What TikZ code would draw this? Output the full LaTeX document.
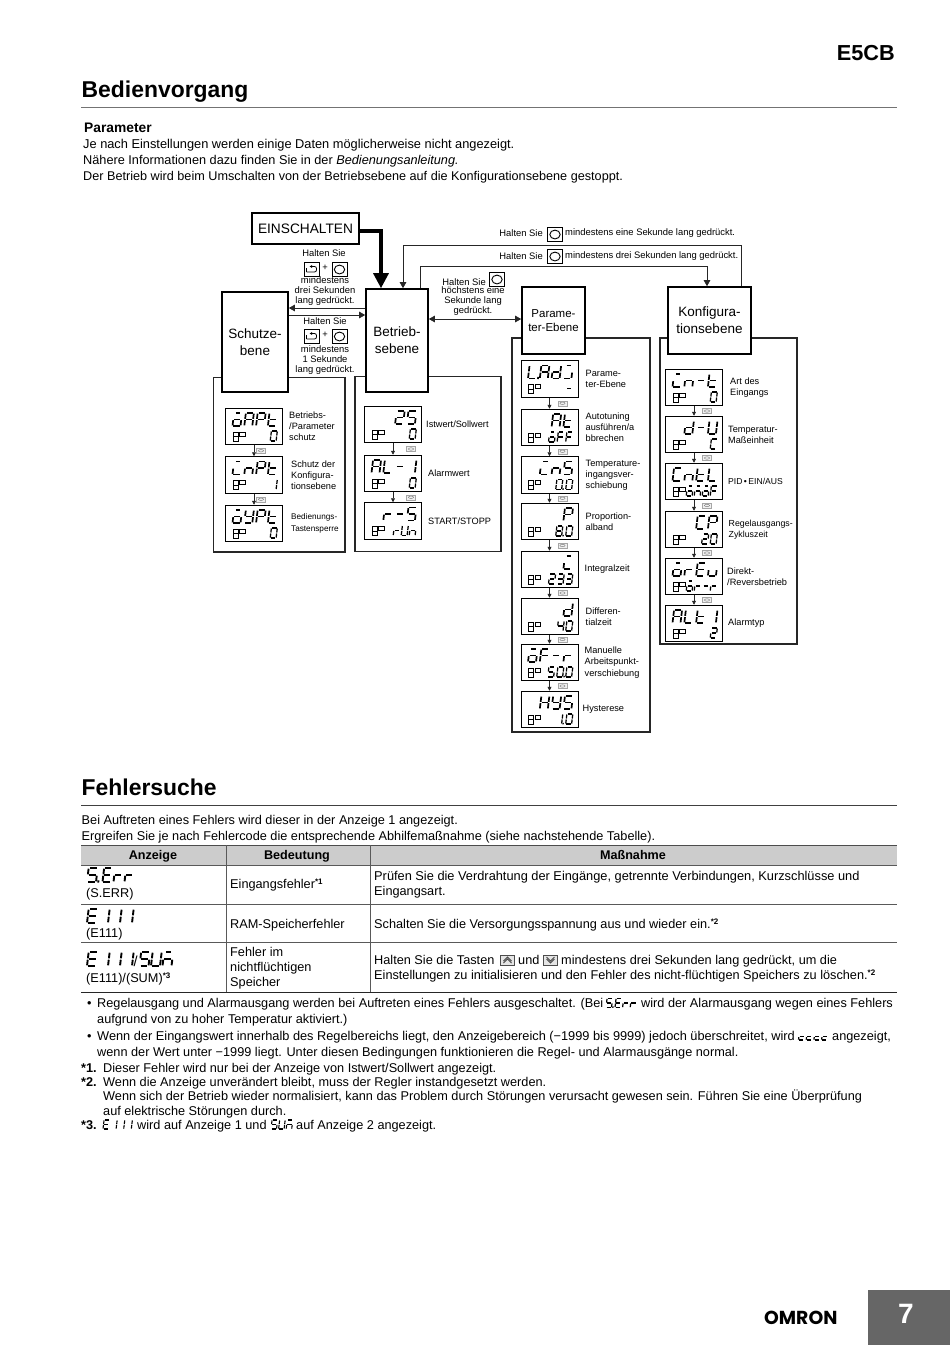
\documentclass[tikz,border=0pt]{standalone}
\usepackage{fontspec}
\setmainfont{Liberation Sans}
\newfontfamily\logofont{Poppins}
\usetikzlibrary{positioning, calc, arrows.meta}

\newcommand{\segpart}[2]{\expandafter\def\csname sp#1\endcsname{#2}}
\segpart{a}{(.12,1) -- (.88,1)}
\segpart{b}{(1,.95) -- (1,.55)}
\segpart{c}{(1,.45) -- (1,.05)}
\segpart{d}{(.12,0) -- (.88,0)}
\segpart{e}{(0,.05) -- (0,.45)}
\segpart{f}{(0,.55) -- (0,.95)}
\segpart{g}{(.12,.5) -- (.88,.5)}
\segpart{h}{(.22,1) -- (.78,1)}
\segpart{p}{(1.25,-.04) -- (1.25,.12)}
\segpart{z}{(0,0)}
\newcommand{\seglyph}[2]{\expandafter\def\csname gl#1\endcsname{#2}}
\seglyph{_}{z}
\seglyph{-}{g}
\seglyph{0}{a,b,c,d,e,f}
\seglyph{0p}{a,b,c,d,e,f,p}
\seglyph{1}{b,c}
\seglyph{1p}{b,c,p}
\seglyph{2}{a,b,g,e,d}
\seglyph{3}{a,b,g,c,d}
\seglyph{4}{f,g,b,c}
\seglyph{5}{a,f,g,c,d}
\seglyph{5p}{a,f,g,c,d,p}
\seglyph{8p}{a,b,c,d,e,f,g,p}
\seglyph{A}{a,b,c,e,f,g}
\seglyph{C}{a,d,e,f}
\seglyph{c}{d,e,g}
\seglyph{d}{b,c,d,e,g}
\seglyph{E}{a,d,e,f,g}
\seglyph{F}{a,e,f,g}
\seglyph{H}{b,c,e,f,g}
\seglyph{in}{d,e,h}
\seglyph{j}{c,d,h}
\seglyph{L}{d,e,f}
\seglyph{Lp}{d,e,f,p}
\seglyph{n}{c,e,g}
\seglyph{nb}{c,e,g,h}
\seglyph{om}{c,d,e,g,h}
\seglyph{P}{a,b,e,f,g}
\seglyph{r}{e,g}
\seglyph{t}{d,e,f,g}
\seglyph{U}{b,c,d,e,f}
\seglyph{u}{c,d,e}
\seglyph{Y}{b,c,d,f,g}

\newcommand{\segrow}[7]{%
  \foreach \segch [count=\segidx from 0] in {#7} {%
    \begin{scope}[shift={(#1+\segidx*#5,#2)}, x=#3pt, y=#4pt, xslant=.12, line width=#6pt]
      \edef\seglist{\csname gl\segch\endcsname}
      \foreach \segname in \seglist {%
        \edef\segpath{\csname sp\segname\endcsname}
        \draw \segpath;
      }
    \end{scope}
  }%
}
\newcommand{\lcd}[6][8]{%
  \node (#2) [lcdbox] at (#3,#4) {};
  \segrow{#3-21.5}{#4-.5}{8}{13}{11.8}{1.7}{#5}
  \segrow{#3+16.2-3*#1}{#4+14.5}{5.9}{10}{#1}{1.25}{#6}
  \draw [line width=.5pt] (#3-21,#4+5.5) rectangle (#3-16,#4+10) (#3-21,#4+10) rectangle (#3-16,#4+14.5)
    (#3-14.5,#4+5.5) rectangle (#3-9,#4+9.5);
}
\newcommand{\stepdown}[3]{%
  \draw [stepline] (#1) -- (#2);
  \node (#1key) [keyhint] at ($(#1.south)!.5!(#2.north)+(#3,0)$) {};
}
\newcommand{\fn}[1]{\raisebox{3.6pt}{\fontsize{8}{8}\selectfont\bfseries *#1}}

\begin{document}
\begin{tikzpicture}[
        x=1pt, y=-1pt,
        body/.style={anchor=base west, inner sep=0pt, font=\fontsize{12.72}{15}\selectfont},
        boldbody/.style={anchor=base west, inner sep=0pt, font=\fontsize{12.72}{15}\selectfont\bfseries},
        colhead/.style={anchor=base, inner sep=0pt, font=\fontsize{12.6}{15}\selectfont\bfseries},
        head/.style={anchor=base west, inner sep=0pt, font=\fontsize{22.9}{26}\selectfont\bfseries},
        hint/.style={align=center, inner sep=0pt, font=\fontsize{9.4}{9.8}\selectfont},
        lbl/.style={align=left, inner sep=0pt, font=\fontsize{9.2}{11.2}\selectfont},
        level/.style={rectangle, draw=black, line width=1.6pt, fill=white, align=center, inner sep=0pt, font=\fontsize{13.5}{17}\selectfont},
        panel/.style={rectangle, draw=black!85, line width=1.5pt, inner sep=0pt},
        lcdbox/.style={rectangle, draw=black, line width=1pt, fill=white, minimum width=57pt, minimum height=36.5pt, inner sep=0pt},
        keyhint/.style={rectangle, draw=black!35, fill=black!6, line width=.4pt, minimum width=9pt, minimum height=5pt, inner sep=0pt,
            path picture={\draw [black!55, line width=.4pt] (path picture bounding box.center) ellipse (2.6pt and 1.2pt);}},
        btnround/.style={rectangle, draw=black, line width=1pt, minimum width=15pt, minimum height=14pt, inner sep=0pt,
            path picture={\draw [line width=.9pt] (path picture bounding box.center) ellipse (5.2pt and 4.4pt);}},
        btncycle/.style={rectangle, draw=black, line width=1pt, minimum width=15pt, minimum height=14pt, inner sep=0pt,
            path picture={\draw [line width=.8pt, rounded corners=2pt, -{Latex[length=2.5pt,width=3pt]}]
                ([shift={(-5pt,-2.5pt)}]path picture bounding box.center) -- ([shift={(5pt,-2.5pt)}]path picture bounding box.center)
                -- ([shift={(5pt,3pt)}]path picture bounding box.center) -- ([shift={(-2pt,3pt)}]path picture bounding box.center);
                \draw [line width=.8pt] ([shift={(-5pt,-2.5pt)}]path picture bounding box.center) -- ([shift={(-5pt,2pt)}]path picture bounding box.center);}},
        btnup/.style={rectangle, draw=black!70, fill=black!10, line width=.6pt, minimum width=14pt, minimum height=10pt, inner sep=0pt,
            path picture={\draw [line width=.8pt] ([shift={(-4pt,-1pt)}]path picture bounding box.center) -- ([shift={(0pt,3pt)}]path picture bounding box.center) -- ([shift={(4pt,-1pt)}]path picture bounding box.center)
                ([shift={(-4pt,-3pt)}]path picture bounding box.center) -- ([shift={(0pt,1pt)}]path picture bounding box.center) -- ([shift={(4pt,-3pt)}]path picture bounding box.center);}},
        btndown/.style={rectangle, draw=black!70, fill=black!10, line width=.6pt, minimum width=14pt, minimum height=10pt, inner sep=0pt,
            path picture={\draw [line width=.8pt] ([shift={(-4pt,1pt)}]path picture bounding box.center) -- ([shift={(0pt,-3pt)}]path picture bounding box.center) -- ([shift={(4pt,1pt)}]path picture bounding box.center)
                ([shift={(-4pt,3pt)}]path picture bounding box.center) -- ([shift={(0pt,-1pt)}]path picture bounding box.center) -- ([shift={(4pt,3pt)}]path picture bounding box.center);}},
        link/.style={-{Triangle[length=6pt,width=6.5pt]}, line width=.8pt, draw=black!85},
        both/.style={{Triangle[length=6pt,width=6.5pt]}-{Triangle[length=6pt,width=6.5pt]}, line width=.8pt, draw=black!85},
        power/.style={-{Triangle[length=15pt,width=15pt]}, line width=3.2pt},
        stepline/.style={-{Triangle[length=4pt,width=4pt]}, line width=.8pt, draw=black!85},
        tablerule/.style={line width=.6pt, draw=black!65}
    ]
    \useasboundingbox (0,0) rectangle (950,1345);

    \node (brand) [anchor=base east, inner sep=0pt, font=\fontsize{21.7}{24}\selectfont\bfseries] at (895,60) {E5CB};
    \node (oper) [head] at (81.5,97) {Bedienvorgang};
    \draw [line width=.6pt, draw=black!55] (81,107) -- (897,107);
    \node (partitle) [boldbody, font=\fontsize{13.8}{15}\selectfont\bfseries] at (84,132) {Parameter};
    \node (parone) [body, font=\fontsize{12.8}{15}\selectfont] at (83,148) {Je nach Einstellungen werden einige Daten möglicherweise nicht angezeigt.};
    \node (partwo) [body] at (83,164) {Nähere Informationen dazu finden Sie in der \emph{Bedienungsanleitung.}};
    \node (parthree) [body, font=\fontsize{12.66}{15}\selectfont] at (83,180) {Der Betrieb wird beim Umschalten von der Betriebsebene auf die Konfigurationsebene gestoppt.};

    \node (schutzpanel) [panel, minimum width=131.5pt, minimum height=174.5pt] at (279,464.5) {};
    \node (betriebpanel) [panel, minimum width=146pt, minimum height=175pt] at (428,464) {};
    \node (parampanel) [panel, minimum width=138pt, minimum height=394pt] at (581,535) {};
    \node (konfigpanel) [panel, minimum width=137pt, minimum height=306pt] at (728.5,491) {};

    \node (start) [level, minimum width=107pt, minimum height=31pt, font=\fontsize{13.7}{17}\selectfont] at (305.5,228.5) {EINSCHALTEN};
    \node (schutz) [level, minimum width=66pt, minimum height=100pt] at (255,342) {Schutze-\\bene};
    \node (betrieb) [level, minimum width=62pt, minimum height=103pt] at (397,340.5) {Betrieb-\\sebene};
    \node (param) [level, minimum width=63pt, minimum height=67pt, font=\fontsize{11.5}{14}\selectfont] at (553.5,320.5) {Parame-\\ter-Ebene};
    \node (konfig) [level, minimum width=83pt, minimum height=67pt] at (709.5,320.5) {Konfigura-\\tionsebene};

    \coordinate (powerturn) at (381,231);
    \coordinate (backturn) at (741,245.5);
    \coordinate (backdrop) at (403,245.5);
    \coordinate (fwdturn) at (707,266);
    \coordinate (fwdrise) at (420,266);
    \coordinate (uplink) at (0,308);
    \coordinate (downlink) at (0,315);
    \coordinate (midlink) at (0,319);
    \draw [power] (start.east |- powerturn) -- (powerturn) -- (betrieb.north -| powerturn);
    \draw [link] (konfig.north -| backturn) -- (backturn) -- (backdrop) -- (betrieb.north -| backdrop);
    \draw [link] (betrieb.north -| fwdrise) -- (fwdrise) -- (fwdturn) -- (konfig.north -| fwdturn);
    \draw [link] (betrieb.west |- uplink) -- (schutz.east |- uplink);
    \draw [link] (schutz.east |- downlink) -- (betrieb.west |- downlink);
    \draw [both] (betrieb.east |- midlink) -- (param.west |- midlink);

    \node (holdup) [hint] at (324,253) {Halten Sie};
    \node (holdupa) [btncycle] at (311.5,269.5) {};
    \node (plusup) [hint] at (325,268) {+};
    \node (holdupb) [btnround] at (339.5,269.5) {};
    \node (holduptxt) [hint] at (325,291) {mindestens\\drei Sekunden\\lang gedrückt.};
    \node (holddown) [hint] at (325,321) {Halten Sie};
    \node (holddowna) [btncycle] at (311.5,336.5) {};
    \node (plusdown) [hint] at (325,335) {+};
    \node (holddownb) [btnround] at (339.5,336.5) {};
    \node (holddowntxt) [hint] at (325,360) {mindestens\\1 Sekunde\\lang gedrückt.};
    \node (holdmid) [hint, anchor=east] at (486,282) {Halten Sie};
    \node (holdmidb) [btnround] at (497,279.5) {};
    \node (holdmidtxt) [hint] at (473,301) {höchstens eine\\Sekunde lang\\gedrückt.};
    \node (holdone) [hint, anchor=east] at (543,233.5) {Halten Sie};
    \node (holdoneb) [btnround] at (555,234.5) {};
    \node (holdonetxt) [hint, anchor=west] at (565,233.5) {mindestens eine Sekunde lang gedrückt.};
    \node (holdthree) [hint, anchor=east] at (543,256) {Halten Sie};
    \node (holdthreeb) [btnround] at (555,256.5) {};
    \node (holdthreetxt) [hint, anchor=west] at (565,256) {mindestens drei Sekunden lang gedrückt.};

    \lcd{oapt}{254}{426.5}{om,A,P,t}{_,_,_,0}
    \lcd{inpt}{254}{475}{in,n,P,t}{_,_,_,1}
    \lcd{oypt}{254}{523.5}{om,Y,P,t}{_,_,_,0}
    \stepdown{oapt}{inpt}{7}
    \stepdown{inpt}{oypt}{7}
    \node (oaptlbl) [lbl, right=6pt of oapt] {Betriebs-\\/Parameter\\schutz};
    \node (inptlbl) [lbl, right=8pt of inpt] {Schutz der\\Konfigura-\\tionsebene};
    \node (oyptlbl) [lbl, right=8pt of oypt, font=\fontsize{8.2}{12}\selectfont] {Bedienungs-\\Tastensperre};

    \lcd{istwert}{393}{424.5}{_,_,2,5}{_,_,_,0}
    \lcd{alarm}{393}{473.5}{A,L,-,1}{_,_,_,0}
    \lcd{runstop}{393}{521}{_,r,-,5}{_,r,U,n}
    \stepdown{istwert}{alarm}{18}
    \stepdown{alarm}{runstop}{18}
    \node (istwertlbl) [lbl, right=4pt of istwert] {Istwert/Sollwert};
    \node (alarmlbl) [lbl, right=6pt of alarm] {Alarmwert};
    \node (runstoplbl) [lbl, right=6pt of runstop] {START/STOPP};

    \lcd{ladj}{549.5}{379}{Lp,A,d,j}{_,_,_,-}
    \lcd[8.6]{atune}{549.5}{427.5}{_,_,A,t}{_,om,F,F}
    \lcd[10]{inshift}{549.5}{475}{_,in,n,5}{_,_,0p,0}
    \lcd[10]{pband}{549.5}{521.5}{_,_,_,P}{_,_,8p,0}
    \lcd[8.6]{itime}{549.5}{569.5}{_,_,_,in}{_,2,3,3}
    \lcd[8.6]{dtime}{549.5}{616.5}{_,_,_,d}{_,_,4,0}
    \lcd[9]{ofr}{549.5}{662.5}{om,F,-,r}{_,5,0p,0}
    \lcd[10]{hys}{549.5}{709.5}{_,H,Y,5}{_,_,1p,0}
    \stepdown{ladj}{atune}{13}
    \stepdown{atune}{inshift}{13}
    \stepdown{inshift}{pband}{13}
    \stepdown{pband}{itime}{13}
    \stepdown{itime}{dtime}{13}
    \stepdown{dtime}{ofr}{13}
    \stepdown{ofr}{hys}{13}
    \node (ladjlbl) [lbl, right=7pt of ladj] {Parame-\\ter-Ebene};
    \node (atunelbl) [lbl, right=7pt of atune] {Autotuning\\ausführen/a\\bbrechen};
    \node (inshiftlbl) [lbl, right=7pt of inshift] {Temperature-\\ingangsver-\\schiebung};
    \node (pbandlbl) [lbl, right=7pt of pband] {Proportion-\\alband};
    \node (itimelbl) [lbl, right=6pt of itime] {Integralzeit};
    \node (dtimelbl) [lbl, right=7pt of dtime] {Differen-\\tialzeit};
    \node (ofrlbl) [lbl, right=6pt of ofr] {Manuelle\\Arbeitspunkt-\\verschiebung};
    \node (hyslbl) [lbl, right=4pt of hys] {Hysterese};

    \lcd{innt}{694}{387.5}{in,n,-,t}{_,_,_,0}
    \lcd{du}{694}{434.5}{_,d,-,U}{_,_,_,C}
    \lcd{cntl}{694}{481.5}{C,n,t,L}{om,nb,om,F}
    \lcd[8.6]{cp}{694}{529.5}{_,_,C,P}{_,_,2,0}
    \lcd{orev}{694}{576.5}{om,r,E,u}{om,r,-,r}
    \lcd{alt}{694}{623.5}{A,L,t,1}{_,_,_,2}
    \stepdown{innt}{du}{13}
    \stepdown{du}{cntl}{13}
    \stepdown{cntl}{cp}{13}
    \stepdown{cp}{orev}{13}
    \stepdown{orev}{alt}{13}
    \node (inntlbl) [lbl, right=7pt of innt] {Art des\\Eingangs};
    \node (dulbl) [lbl, right=5pt of du] {Temperatur-\\Maßeinheit};
    \node (cntllbl) [lbl, right=5pt of cntl, font=\fontsize{8.6}{11}\selectfont] {PID\,\textbullet\,EIN/AUS};
    \node (cplbl) [lbl, right=5.5pt of cp, font=\fontsize{8.8}{11.2}\selectfont] {Regelausgangs-\\Zykluszeit};
    \node (orevlbl) [lbl, right=4pt of orev] {Direkt-\\/Reversbetrieb};
    \node (altlbl) [lbl, right=5pt of alt] {Alarmtyp};

    \node (fault) [head] at (81.5,795) {Fehlersuche};
    \draw [line width=.8pt, draw=black!75] (81,805) -- (897,805);
    \node (faultone) [body] at (81.5,824) {Bei Auftreten eines Fehlers wird dieser in der Anzeige 1 angezeigt.};
    \node (faulttwo) [body] at (81.5,840) {Ergreifen Sie je nach Fehlercode die entsprechende Abhilfemaßnahme (siehe nachstehende Tabelle).};

    \fill [black!20] (81,845) rectangle (897,865);
    \draw [line width=.8pt, draw=black!70] (81,845) -- (897,845);
    \draw [tablerule] (81,865) -- (897,865);
    \draw [tablerule] (81,904) -- (897,904);
    \draw [tablerule] (81,942.5) -- (897,942.5);
    \draw [line width=1pt, draw=black!85] (81,992) -- (897,992);
    \draw [tablerule] (226,845) -- (226,992);
    \draw [tablerule] (370,845) -- (370,992);
    \node (colshow) [colhead] at (153,859.5) {Anzeige};
    \node (colmean) [colhead] at (297,859.5) {Bedeutung};
    \node (colact) [colhead] at (633,859.5) {Maßnahme};

    \segrow{87}{882}{9}{14}{12.5}{1.9}{5p}
    \segrow{102.5}{882}{8}{14}{11}{1.9}{E,r,r}
    \node (serrname) [body] at (86,897.5) {(S.ERR)};
    \node (serrmean) [body] at (230,888) {Eingangsfehler\fn{1}};
    \node (serrone) [body, font=\fontsize{12.8}{15}\selectfont] at (374,880.5) {Prüfen Sie die Verdrahtung der Eingänge, getrennte Verbindungen, Kurzschlüsse und};
    \node (serrtwo) [body] at (374,895.5) {Eingangsart.};

    \segrow{87}{923}{9}{14}{12}{1.9}{E,1,1,1}
    \node (ramname) [body] at (86,937.5) {(E111)};
    \node (rammean) [body] at (230,928) {RAM-Speicherfehler};
    \node (ramact) [body] at (374,928) {Schalten Sie die Versorgungsspannung aus und wieder ein.\fn{2}};

    \segrow{87}{966}{9}{14}{12}{1.9}{E,1,1,1}
    \node (sumslash) [body, font=\fontsize{14.5}{15}\selectfont] at (133.5,966) {/};
    \segrow{139.5}{966}{9}{14}{11.5}{1.9}{5,U,nb}
    \node (sumname) [body] at (86,982) {(E111)/(SUM)\fn{3}};
    \node (summeanone) [body] at (230,956.5) {Fehler im};
    \node (summeantwo) [body] at (230,971.5) {nichtflüchtigen};
    \node (summeanthree) [body] at (230,986.5) {Speicher};
    \node (sumacta) [body] at (374,964) {Halten Sie die Tasten};
    \node (keyup) [btnup] at (507.5,960) {};
    \node (sumactb) [body] at (518,964) {und};
    \node (keydown) [btndown] at (550.5,960) {};
    \node (sumactc) [body] at (561,964) {mindestens drei Sekunden lang gedrückt, um die};
    \node (sumacttwo) [body] at (374,979) {Einstellungen zu initialisieren und den Fehler des nicht-flüchtigen Speichers zu löschen.\fn{2}};

    \node (dotone) [body] at (87,1007.5) {\textbullet};
    \node (noteone) [body] at (97,1007.5) {Regelausgang und Alarmausgang werden bei Auftreten eines Fehlers ausgeschaltet. (Bei};
    \segrow{606}{1007.5}{5.5}{9}{8.4}{1.2}{5p}
    \segrow{615}{1007.5}{5.5}{9}{7.6}{1.2}{E,r,r}
    \node (noteonea) [body] at (641,1007.5) {wird der Alarmausgang wegen eines Fehlers};
    \node (noteoneb) [body] at (97,1023) {aufgrund von zu hoher Temperatur aktiviert.)};
    \node (dottwo) [body] at (87,1040) {\textbullet};
    \node (notetwo) [body, font=\fontsize{12.78}{15}\selectfont] at (97,1040) {Wenn der Eingangswert innerhalb des Regelbereichs liegt, den Anzeigebereich (−1999 bis 9999) jedoch überschreitet, wird};
    \segrow{798.5}{1040}{5.5}{6.5}{7.7}{1.2}{c,c,c,c}
    \node (notetwoa) [body] at (832,1040) {angezeigt,};
    \node (notetwob) [body] at (97,1056) {wenn der Wert unter −1999 liegt. Unter diesen Bedingungen funktionieren die Regel- und Alarmausgänge normal.};
    \node (starone) [boldbody] at (81,1072) {*1.};
    \node (staronetxt) [body] at (103,1072) {Dieser Fehler wird nur bei der Anzeige von Istwert/Sollwert angezeigt.};
    \node (startwo) [boldbody] at (81,1086) {*2.};
    \node (startwotxt) [body] at (103,1086) {Wenn die Anzeige unverändert bleibt, muss der Regler instandgesetzt werden.};
    \node (startwob) [body] at (103,1100.5) {Wenn sich der Betrieb wieder normalisiert, kann das Problem durch Störungen verursacht gewesen sein. Führen Sie eine Überprüfung};
    \node (startwoc) [body] at (103,1115) {auf elektrische Störungen durch.};
    \node (starthree) [boldbody] at (81,1129) {*3.};
    \segrow{103}{1129}{5.5}{9}{7.6}{1.1}{E,1,1,1}
    \node (starthreea) [body] at (137,1129) {wird auf Anzeige 1 und};
    \segrow{271}{1129}{5.5}{9}{7.6}{1.1}{5,U,nb}
    \node (starthreeb) [body] at (296,1129) {auf Anzeige 2 angezeigt.};

    \node (logo) [anchor=base west, inner sep=0pt, font=\fontsize{18.8}{20}\selectfont\logofont\bfseries] at (764,1324) {OMRON};
    \node (pagebox) [rectangle, fill=black!60, minimum width=82pt, minimum height=55pt, inner sep=0pt] at (909,1317.5) {};
    \node (pagenum) [inner sep=0pt, text=white, font=\fontsize{28}{30}\selectfont\bfseries] at (906,1314) {7};
\end{tikzpicture}
\end{document}
